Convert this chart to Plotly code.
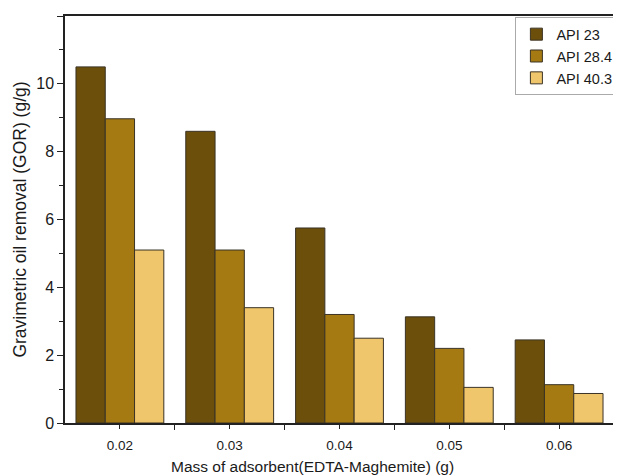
import plotly.graph_objects as go

mass = [0.02, 0.03, 0.04, 0.05, 0.06]
tick_labels = ["0.02", "0.03", "0.04", "0.05", "0.06"]
series_names = ["API 23", "API 28.4", "API 40.3"]
api23 = [10.5, 8.6, 5.75, 3.13, 2.45]
api284 = [8.97, 5.1, 3.2, 2.2, 1.13]
api403 = [5.1, 3.4, 2.5, 1.05, 0.87]
colors = ["#6B4F0A", "#A57A12", "#EFC66C"]
x_title = "Mass of adsorbent(EDTA-Maghemite) (g)"
y_title = "Gravimetric oil removal (GOR) (g/g)"

fig = go.Figure()
for name, vals, c in zip(series_names, [api23, api284, api403], colors):
    fig.add_trace(go.Bar(x=mass, y=vals, name=name,
                         marker=dict(color=c, line=dict(color="#3b3326", width=1))))

fig.update_layout(
    width=613, height=467,
    margin=dict(l=57, r=3, t=8, b=52),
    paper_bgcolor="white", plot_bgcolor="white",
    barmode="group", bargap=0.2, bargroupgap=0,
    font=dict(family="Arial, Liberation Sans, sans-serif", color="#1a1a1a"),
    legend=dict(x=1.008, y=0.997, xanchor="right", yanchor="top", bgcolor="white",
                bordercolor="#aaaaaa", borderwidth=1, font=dict(size=14.5),
                tracegroupgap=0),
    showlegend=True,
    annotations=[dict(text=x_title, xref="paper", yref="paper", x=0.45, y=-0.108,
                      xanchor="center", yanchor="middle", showarrow=False,
                      font=dict(size=15.5))],
)
fig.update_xaxes(
    range=[0.015, 0.065], tickvals=mass, ticktext=tick_labels,
    showline=True, linecolor="#222", linewidth=1.5, mirror=True,
    ticks="outside", ticklen=4, tickcolor="#222", showgrid=False, zeroline=False,
    minor=dict(tickvals=[0.025, 0.035, 0.045, 0.055], ticks="outside", ticklen=5, tickcolor="#222"),
    tickfont=dict(size=13.5), ticklabelstandoff=5,
)
fig.update_yaxes(
    range=[0, 12], dtick=2, showline=True, linecolor="#222", linewidth=1.5, mirror=True,
    ticks="outside", ticklen=6, tickcolor="#222", showgrid=False, zeroline=False,
    minor=dict(dtick=1, ticks="outside", ticklen=4, tickcolor="#222"),
    tickfont=dict(size=16),
    title=dict(text=y_title, font=dict(size=17.5), standoff=5),
)
fig.write_html("out.html")
